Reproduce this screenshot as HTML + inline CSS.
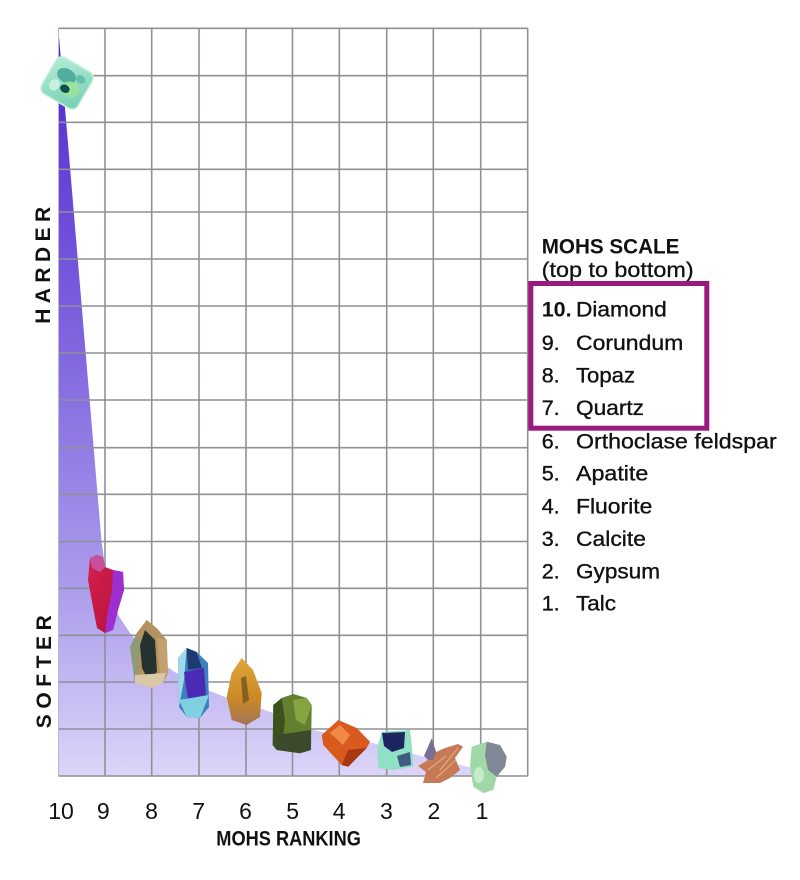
<!DOCTYPE html>
<html>
<head>
<meta charset="utf-8">
<style>
html,body{margin:0;padding:0;background:#ffffff;}
svg{display:block;}
text{font-family:"Liberation Sans",Arial,sans-serif;fill:#111;}
</style>
</head>
<body>
<svg width="800" height="880" viewBox="0 0 800 880" xmlns="http://www.w3.org/2000/svg">
<defs>
<linearGradient id="fillg" x1="0" y1="28" x2="0" y2="776" gradientUnits="userSpaceOnUse">
<stop offset="0" stop-color="#5025cf"/>
<stop offset="0.25" stop-color="#6b4bd9"/>
<stop offset="0.5" stop-color="#8a71e2"/>
<stop offset="0.75" stop-color="#ac9cec"/>
<stop offset="1" stop-color="#dcd5f8"/>
</linearGradient>
<linearGradient id="ruby" x1="0" y1="0" x2="1" y2="1">
<stop offset="0" stop-color="#d8204e"/>
<stop offset="1" stop-color="#b0123a"/>
</linearGradient>
<linearGradient id="amber" x1="0" y1="0" x2="0" y2="1">
<stop offset="0" stop-color="#e2a63c"/>
<stop offset="0.6" stop-color="#c98a24"/>
<stop offset="1" stop-color="#a47458"/>
</linearGradient>
<linearGradient id="mint" x1="0" y1="0" x2="1" y2="1">
<stop offset="0" stop-color="#b4ecd6"/>
<stop offset="1" stop-color="#74cfb3"/>
</linearGradient>
</defs>

<rect width="800" height="880" fill="#ffffff"/>

<!-- purple fill -->
<polygon fill="url(#fillg)" points="58.3,28.3 101.5,541 106,575 112,603 120,618 130,633 140,645 156,659 173,671 200,687 225,697 262,709 290,719 313,730 373,743 417,755 473,768 484,776 58.3,776"/>

<!-- grid -->
<g stroke="#8e9196" stroke-width="1.6" fill="none">
<line x1="58.5" y1="28.3" x2="527.7" y2="28.3"/>
<line x1="58.5" y1="75.7" x2="527.7" y2="75.7"/>
<line x1="58.5" y1="122.3" x2="527.7" y2="122.3"/>
<line x1="58.5" y1="169.3" x2="527.7" y2="169.3"/>
<line x1="58.5" y1="212" x2="527.7" y2="212"/>
<line x1="58.5" y1="259" x2="527.7" y2="259"/>
<line x1="58.5" y1="306" x2="527.7" y2="306"/>
<line x1="58.5" y1="353" x2="527.7" y2="353"/>
<line x1="58.5" y1="400" x2="527.7" y2="400"/>
<line x1="58.5" y1="447.7" x2="527.7" y2="447.7"/>
<line x1="58.5" y1="494.3" x2="527.7" y2="494.3"/>
<line x1="58.5" y1="541.5" x2="527.7" y2="541.5"/>
<line x1="58.5" y1="588.3" x2="527.7" y2="588.3"/>
<line x1="58.5" y1="635.3" x2="527.7" y2="635.3"/>
<line x1="58.5" y1="682" x2="527.7" y2="682"/>
<line x1="58.5" y1="729" x2="527.7" y2="729"/>
<line x1="58.5" y1="776" x2="527.7" y2="776"/>
<line x1="58.5" y1="28.3" x2="58.5" y2="776" stroke="#b9b4d8" stroke-width="1"/>
<line x1="105" y1="28.3" x2="105" y2="776"/>
<line x1="151.7" y1="28.3" x2="151.7" y2="776"/>
<line x1="199" y1="28.3" x2="199" y2="776"/>
<line x1="246" y1="28.3" x2="246" y2="776"/>
<line x1="292.5" y1="28.3" x2="292.5" y2="776"/>
<line x1="339.3" y1="28.3" x2="339.3" y2="776"/>
<line x1="386.7" y1="28.3" x2="386.7" y2="776"/>
<line x1="433.3" y1="28.3" x2="433.3" y2="776"/>
<line x1="480.7" y1="28.3" x2="480.7" y2="776"/>
<line x1="527.7" y1="28.3" x2="527.7" y2="776"/>
</g>

<!-- 10 diamond -->
<g transform="translate(67,83) rotate(30)">
<rect x="-21" y="-21" width="42" height="42" rx="7" fill="url(#mint)" stroke="#cdeee0" stroke-width="1.5"/>
<ellipse cx="-4" cy="-6" rx="10" ry="7" fill="#3f9f93" opacity="0.8"/>
<ellipse cx="6" cy="4" rx="9" ry="8" fill="#9fe39a" opacity="0.8"/>
<ellipse cx="1" cy="6" rx="5" ry="4" fill="#124f48"/>
<ellipse cx="-10" cy="8" rx="5" ry="6" fill="#d6f5ea" opacity="0.8"/>
<ellipse cx="10" cy="-10" rx="5" ry="4" fill="#58b9a8" opacity="0.8"/>
</g>

<!-- 9 corundum -->
<polygon points="90,558 97,555 103,557 105,567 113,570 123,572 124,590 118,610 113,630 105,633 97,628 93,607 88,580" fill="url(#ruby)"/>
<polygon points="113,570 123,572 124,590 118,610 113,630 105,633 108,610 112,590" fill="#9d2fd0"/>
<polygon points="90,558 97,555 103,557 105,567 100,572 92,568" fill="#c8509a"/>

<!-- 8 topaz -->
<polygon points="146.7,620 156.7,628 166.7,640 168,673 163,683 151.7,688 135,683 130,647 136.7,633" fill="#b39260"/>
<polygon points="130,647 136.7,633 140,645 138,670 135,683" fill="#8e9a78"/>
<polygon points="145,630 155,640 157,672 148,680 142,668 140,645" fill="#24332f"/>
<polygon points="157,638 166.7,640 168,673 160,676" fill="#c4a070"/>
<polygon points="135,675 166,673 163,683 151.7,688 135,683" fill="#d8c8a8"/>

<!-- 7 -->
<polygon points="186.7,648 196.7,652 208,663 209,707 200,718 186.7,717 179,707 178,658" fill="#3f7fc0"/>
<polygon points="178,658 186.7,648 184,680 179,707" fill="#9fd8e8"/>
<polygon points="186.7,648 196.7,652 202,668 188,670" fill="#1f3a70"/>
<polygon points="184,672 204,668 206,695 188,700" fill="#4b2bb5"/>
<polygon points="179,700 209,695 200,718 186.7,717" fill="#7fd0e0"/>

<!-- 6 -->
<polygon points="241.7,658 253,670 261.7,693 260,717 246.7,725 231.7,720 226.7,697 231.7,673" fill="url(#amber)"/>
<polygon points="241,678 246,676 249,700 243,704" fill="#6a4a20" opacity="0.7"/>

<!-- 5 -->
<polygon points="273.3,705 281.7,698 293.3,694 306.7,698 311.7,705 311,750 300,753.3 276.7,750 272.7,745" fill="#62802e"/>
<polygon points="273.3,705 281.7,698 285,720 282,748 276.7,750 272.7,745" fill="#3c521c"/>
<polygon points="293,700 306.7,698 311.7,705 305,725 296,720" fill="#86a442"/>
<polygon points="276.7,735 311,730 311,750 300,753.3 276.7,750" fill="#3b4a2a"/>

<!-- 4 -->
<polygon points="321.7,735 338.3,720 356.7,728 370,741.7 366.7,748 348.3,766.7 341.7,765 323.3,745" fill="#d95a1f"/>
<polygon points="330,733 340,725 350,735 343,745" fill="#f08a45"/>
<polygon points="348,750 366.7,748 348.3,766.7 341.7,765" fill="#a8380f"/>

<!-- 3 -->
<polygon points="381.7,731.7 410,730 411.7,745 413.3,766.7 393.3,770 378.3,768 377.3,748" fill="#8fe0c4"/>
<polygon points="382,733 405,732 404,748 392,752 384,746" fill="#1d2560"/>
<polygon points="397,756 410,752 411,765 400,767" fill="#2c3a70" opacity="0.8"/>

<!-- 2 -->
<polygon points="431.7,738.3 436,752 445,748 458,744 463,746.7 455,758 460,770 450,778 440,783 423,783 426,772 418,766 428,760" fill="#c57a55"/>
<polygon points="431.7,738.3 436,752 433,760 428,760 424,756" fill="#7a6e95"/>
<g stroke="#e6a784" stroke-width="1.2">
<line x1="440" y1="770" x2="458" y2="748"/>
<line x1="436" y1="778" x2="456" y2="760"/>
<line x1="428" y1="770" x2="446" y2="756"/>
</g>

<!-- 1 -->
<polygon points="471.7,746.7 486.7,741.7 500,745 506.7,756.7 505,766.7 496.7,776.7 493.3,790 483.3,793 473.3,786.7 470,766.7" fill="#a0d8a8"/>
<polygon points="486.7,741.7 500,745 506.7,756.7 505,766.7 496.7,776.7 488,770 485,755" fill="#808898"/>
<ellipse cx="479" cy="775" rx="5" ry="8" fill="#d2f0d6" opacity="0.8"/>

<!-- side labels -->
<text transform="translate(50,265.3) rotate(-90)" x="0" y="0" text-anchor="middle" font-size="21" font-weight="bold" textLength="117" lengthAdjust="spacing">HARDER</text>
<text transform="translate(51,671.7) rotate(-90)" x="0" y="0" text-anchor="middle" font-size="21" font-weight="bold" textLength="113" lengthAdjust="spacing">SOFTER</text>

<!-- x labels -->
<g font-size="23" text-anchor="middle">
<text x="61" y="819">10</text>
<text x="103.3" y="819">9</text>
<text x="151.5" y="819">8</text>
<text x="198.7" y="819">7</text>
<text x="245.5" y="819">6</text>
<text x="292.7" y="819">5</text>
<text x="339.2" y="819">4</text>
<text x="386.4" y="819">3</text>
<text x="433.9" y="819">2</text>
<text x="482" y="819">1</text>
</g>
<text x="216.3" y="845.5" font-size="21" font-weight="bold" textLength="144.6" lengthAdjust="spacingAndGlyphs">MOHS RANKING</text>

<!-- legend -->
<text x="541.7" y="253.3" font-size="21" font-weight="bold" textLength="137.7" lengthAdjust="spacingAndGlyphs">MOHS SCALE</text>
<text x="541.7" y="277" font-size="21.5" stroke="#111" stroke-width="0.3" textLength="152" lengthAdjust="spacingAndGlyphs">(top to bottom)</text>
<rect x="530.8" y="283.5" width="176" height="144.7" fill="none" stroke="#9b1a7d" stroke-width="5"/>

<g font-size="21.5" stroke="#111" stroke-width="0.35">
<text x="541.7" y="316.7" font-weight="bold" stroke-width="0">10.</text>
<text x="576" y="316.7" textLength="90.7" lengthAdjust="spacingAndGlyphs">Diamond</text>
<text x="541.7" y="350">9.</text>
<text x="576" y="350" textLength="107.3" lengthAdjust="spacingAndGlyphs">Corundum</text>
<text x="541.7" y="382.7">8.</text>
<text x="576" y="382.7" textLength="59" lengthAdjust="spacingAndGlyphs">Topaz</text>
<text x="541.7" y="415">7.</text>
<text x="576" y="415" textLength="68" lengthAdjust="spacingAndGlyphs">Quartz</text>
<text x="541.7" y="448.3">6.</text>
<text x="576" y="448.3" textLength="200.7" lengthAdjust="spacingAndGlyphs">Orthoclase feldspar</text>
<text x="541.7" y="480.7">5.</text>
<text x="576" y="480.7" textLength="72.3" lengthAdjust="spacingAndGlyphs">Apatite</text>
<text x="541.7" y="513.3">4.</text>
<text x="576" y="513.3" textLength="76.3" lengthAdjust="spacingAndGlyphs">Fluorite</text>
<text x="541.7" y="546">3.</text>
<text x="576" y="546" textLength="70" lengthAdjust="spacingAndGlyphs">Calcite</text>
<text x="541.7" y="578.3">2.</text>
<text x="576" y="578.3" textLength="84" lengthAdjust="spacingAndGlyphs">Gypsum</text>
<text x="541.7" y="610.7">1.</text>
<text x="576" y="610.7" textLength="40" lengthAdjust="spacingAndGlyphs">Talc</text>
</g>
</svg>
</body>
</html>
